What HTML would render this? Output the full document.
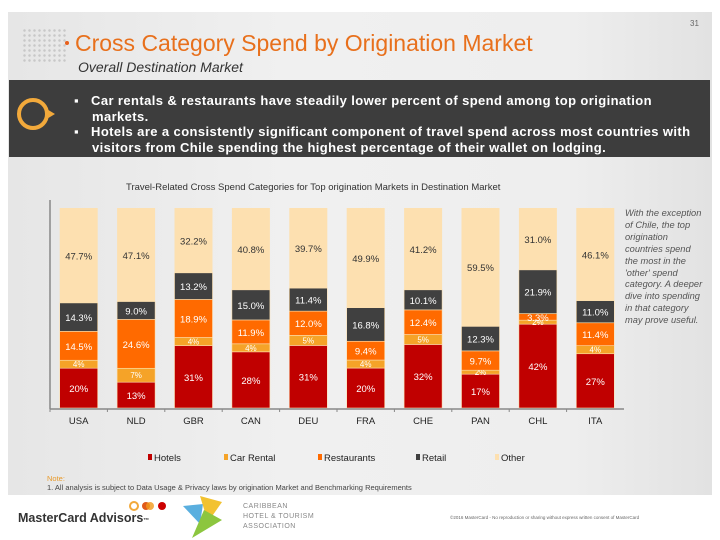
<!DOCTYPE html>
<html><head><meta charset="utf-8"><style>
body{margin:0;width:720px;height:540px;overflow:hidden;background:#fff;font-family:"Liberation Sans",sans-serif;position:relative}
.abs{position:absolute}
</style></head><body>
<div class="abs" style="left:8px;top:12px;width:704px;height:483px;background:linear-gradient(90deg,#e6e6e6,#f0f0f0 40%,#eeeeee 80%,#e2e2e2)"></div>
<div class="abs" style="left:690px;top:19px;font-size:8px;color:#666">31</div>
<div class="abs" style="left:22px;top:28px;width:44px;height:36px;background:radial-gradient(circle,#c8c8c8 1px,transparent 1.5px) 0 0/5px 5px"></div>
<div class="abs" style="left:65px;top:41px;width:4px;height:4px;border-radius:50%;background:#e8601c"></div>
<div class="abs" style="left:75px;top:30px;font-size:23px;color:#e8701c;white-space:nowrap">Cross Category Spend by Origination Market</div>
<div class="abs" style="left:78px;top:59px;font-size:14px;font-style:italic;color:#333">Overall Destination Market</div>
<div class="abs" style="left:9px;top:80px;width:701px;height:77px;background:#3d3d3d"></div>
<svg class="abs" style="left:14px;top:95px" width="46" height="40"><circle cx="19" cy="19" r="14" fill="none" stroke="#f2a93b" stroke-width="4"/><path d="M31 13 L41 19 L31 25Z" fill="#f2a93b"/></svg>
<div class="abs" style="left:74px;top:93px;width:630px;font-size:13px;font-weight:bold;color:#fff;line-height:15.5px;letter-spacing:0.4px">
<div style="padding-left:18px;text-indent:-18px">▪&nbsp;&nbsp;&nbsp;Car rentals &amp; restaurants have steadily lower percent of spend among top origination markets.</div>
<div style="padding-left:18px;text-indent:-18px">▪&nbsp;&nbsp;&nbsp;Hotels are a consistently significant component of travel spend across most countries with visitors from Chile spending the highest percentage of their wallet on lodging.</div></div>
<div class="abs" style="left:126px;top:182px;font-size:9.5px;color:#333">Travel-Related Cross Spend Categories for Top origination Markets in Destination Market</div>
<div class="abs" style="left:625px;top:208px;width:80px;font-size:9.3px;font-style:italic;color:#555;line-height:11.9px">With the exception of Chile, the top origination countries spend the most in the 'other' spend category. A deeper dive into spending in that category may prove useful.</div>
<svg id="chart" class="abs" style="left:0;top:0" width="720" height="540"></svg>
<div class="abs" style="left:47px;top:474px;font-size:7.5px;color:#e89a2a">Note:</div>
<div class="abs" style="left:47px;top:483px;font-size:7.5px;color:#444">1. All analysis is subject to Data Usage &amp; Privacy laws by origination Market and Benchmarking Requirements</div>
<div class="abs" style="left:18px;top:511px;font-size:12.5px;font-weight:bold;color:#333">MasterCard Advisors<span style="font-size:6px">™</span></div>
<svg class="abs" style="left:128px;top:500px" width="40" height="12"><circle cx="6" cy="6" r="4" fill="none" stroke="#f2a93b" stroke-width="2"/><circle cx="18" cy="6" r="4" fill="#e05a1a"/><circle cx="22" cy="6" r="4" fill="#f29a1a" opacity=".8"/><circle cx="34" cy="6" r="4" fill="#c00"/></svg>
<svg class="abs" style="left:178px;top:494px" width="50" height="46"><path d="M5 12 L25 10 L22 30Z" fill="#5aafdf"/><path d="M22 2 L44 8 L30 28Z" fill="#f2c230"/><path d="M14 44 L26 16 L44 26Z" fill="#8cc63f"/></svg>
<div class="abs" style="left:243px;top:502px;font-size:7px;color:#888;line-height:10px;letter-spacing:.5px">CARIBBEAN<br>HOTEL &amp; TOURISM<br>ASSOCIATION</div>
<div class="abs" style="left:450px;top:515px;font-size:4.5px;color:#666">©2016 MasterCard - No reproduction or sharing without express written consent of MasterCard</div>
<script>
const categories=["USA","NLD","GBR","CAN","DEU","FRA","CHE","PAN","CHL","ITA"];
const hotels=[20,13,31,28,31,20,32,17,42,27];
const carRental=[4,7,4,4,5,4,5,2,2,4];
const restaurants=[14.5,24.6,18.9,11.9,12.0,9.4,12.4,9.7,3.3,11.4];
const retail=[14.3,9.0,13.2,15.0,11.4,16.8,10.1,12.3,21.9,11.0];
const other=[47.7,47.1,32.2,40.8,39.7,49.9,41.2,59.5,31.0,46.1];
const hotelLabels=["20%","13%","31%","28%","31%","20%","32%","17%","42%","27%"];
const carLabels=["4%","7%","4%","4%","5%","4%","5%","2%","2%","4%"];
const seriesNames=["Hotels","Car Rental","Restaurants","Retail","Other"];
const svg=document.getElementById('chart');const NS='http://www.w3.org/2000/svg';
const plot={x0:50,x1:624,top:208,bottom:408};
const step=(plot.x1-plot.x0)/categories.length,bw=38;
function xC(i){return plot.x0+step*(i+0.5);}
function yS(frac){return plot.bottom-frac*(plot.bottom-plot.top);}
function mk(t,a){const e=document.createElementNS(NS,t);for(const k in a)e.setAttribute(k,a[k]);svg.appendChild(e);return e;}
const colors=["#c00000","#f5a328","#ff6a00","#404040","#fde0b0"];
const txtCol=["#fff","#fff","#fff","#fff","#333"];
const series=[hotels,carRental,restaurants,retail,other];
categories.forEach((c,i)=>{
  const tot=series.reduce((s,a)=>s+a[i],0);let cum=0;
  series.forEach((arr,k)=>{
    const y1=yS(cum/tot),y2=yS((cum+arr[i])/tot);cum+=arr[i];
    const r=mk('rect',{x:xC(i)-bw/2,y:y2,width:bw,height:y1-y2,fill:colors[k],stroke:k<4?'#fde0b0':'none','stroke-width':0.6});
    
    
    let lab=k==0?hotelLabels[i]:k==1?carLabels[i]:arr[i].toFixed(1)+'%';
    const t=mk('text',{x:xC(i),y:(y1+y2)/2+(k==1?3:4),'text-anchor':'middle','font-size':k==1?8:9.5,fill:txtCol[k],'font-family':'Liberation Sans,sans-serif'});
    t.textContent=lab;
    
    
  });
  const xl=mk('text',{x:xC(i),y:424,'text-anchor':'middle','font-size':9.5,fill:'#222','font-family':'Liberation Sans,sans-serif'});
  xl.textContent=c;
  
  
  const tk=mk('line',{x1:plot.x0+step*i,x2:plot.x0+step*i,y1:409,y2:412,stroke:'#888'});
  
  
});
const ya=mk('line',{x1:plot.x0,x2:plot.x0,y1:200,y2:409,stroke:'#888','stroke-width':1.5});


const xa=mk('line',{x1:plot.x0,x2:plot.x1,y1:409,y2:409,stroke:'#888','stroke-width':1.5});


const legX=[148,224,318,416,495];
seriesNames.forEach((n,k)=>{
  const r=mk('rect',{x:legX[k],y:454,width:4,height:6,fill:colors[k]});
  
  
  const t=mk('text',{x:legX[k]+6,y:461,'font-size':9.5,fill:'#222','font-family':'Liberation Sans,sans-serif'});
  t.textContent=n;
  
  
});
</script>
</body></html>
